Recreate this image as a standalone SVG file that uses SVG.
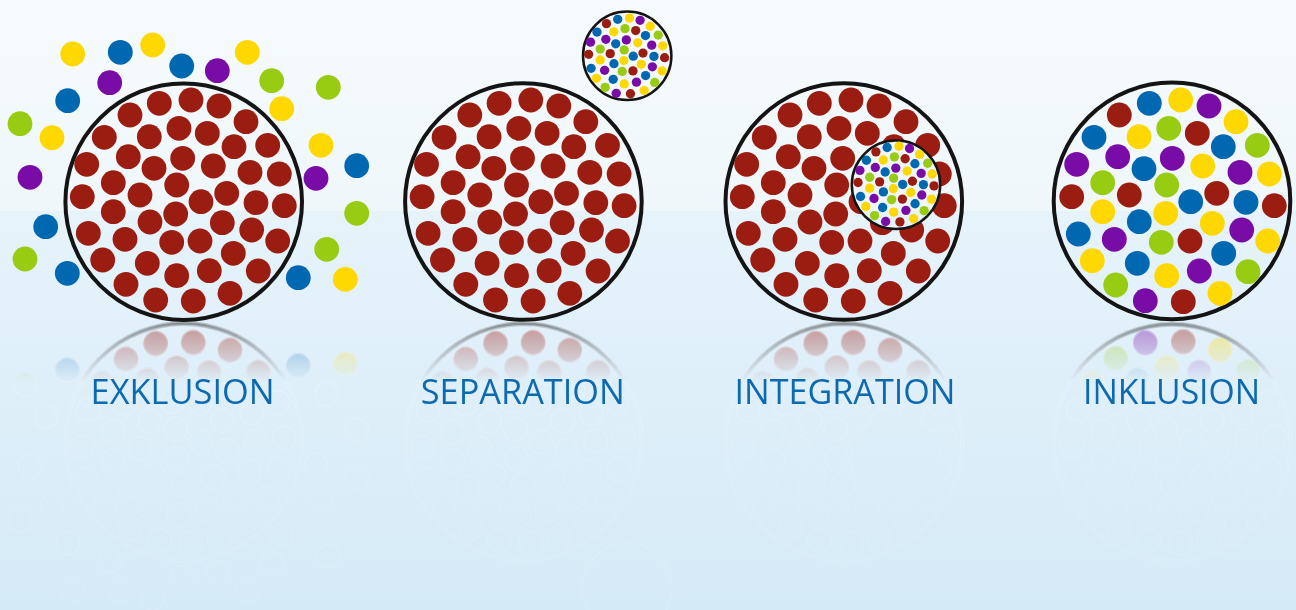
<svg xmlns="http://www.w3.org/2000/svg" xmlns:xlink="http://www.w3.org/1999/xlink" width="1296" height="610" viewBox="0 0 1296 610">
<style>
.r{fill:#9b1d11}.b{fill:#0067b1}.y{fill:#fed800}.p{fill:#790ca6}.g{fill:#98cc13}
.ring{fill:none;stroke:#141414;stroke-width:4}
.sring{fill:url(#bg);stroke:#141414;stroke-width:2.5}
.lbl{font-family:"Open Sans","Noto Sans","Liberation Sans",sans-serif;font-size:35px;fill:#0d6ab1;text-anchor:middle}
</style>
<defs>
<linearGradient id="bg" gradientUnits="userSpaceOnUse" x1="0" y1="0" x2="0" y2="610">
<stop offset="0" stop-color="#f6fbfd"/>
<stop offset="0.3459" stop-color="#eff7fb"/>
<stop offset="0.3459" stop-color="#e6f3fb"/>
<stop offset="1" stop-color="#d5eaf7"/>
</linearGradient>
<linearGradient id="fadeA" gradientUnits="userSpaceOnUse" x1="0" y1="322" x2="0" y2="382">
<stop offset="0" stop-color="#fff" stop-opacity="0.45"/>
<stop offset="1" stop-color="#fff" stop-opacity="0"/>
</linearGradient>
<linearGradient id="fadeB" gradientUnits="userSpaceOnUse" x1="0" y1="322" x2="0" y2="610">
<stop offset="0" stop-color="#fff" stop-opacity="0.7"/>
<stop offset="1" stop-color="#fff" stop-opacity="0.35"/>
</linearGradient>
<mask id="mA" maskUnits="userSpaceOnUse" x="0" y="0" width="1296" height="610">
<rect x="0" y="321" width="1296" height="289" fill="url(#fadeA)"/>
</mask>
<mask id="mB" maskUnits="userSpaceOnUse" x="0" y="0" width="1296" height="610">
<rect x="0" y="321" width="1296" height="289" fill="url(#fadeB)"/>
</mask>
<filter id="edge" filterUnits="userSpaceOnUse" x="0" y="300" width="1296" height="340">
<feMorphology in="SourceAlpha" operator="erode" radius="1" result="e"/>
<feComposite in="SourceAlpha" in2="e" operator="out" result="ring"/>
<feFlood flood-color="#ffffff" flood-opacity="0.3"/>
<feComposite in2="ring" operator="in"/>
</filter>
<g id="redDots" class="r">
<circle cx="159.3" cy="103.3" r="12.4"/><circle cx="191" cy="100" r="12.4"/><circle cx="219" cy="106" r="12.4"/>
<circle cx="130" cy="115" r="12.4"/><circle cx="246" cy="121.7" r="12.4"/><circle cx="179" cy="128.3" r="12.4"/>
<circle cx="207.3" cy="133.3" r="12.4"/><circle cx="104.3" cy="137.3" r="12.4"/><circle cx="149.3" cy="136.7" r="12.4"/>
<circle cx="234" cy="146.7" r="12.4"/><circle cx="267.7" cy="145.3" r="12.4"/><circle cx="128.3" cy="156.7" r="12.4"/>
<circle cx="182.7" cy="158.3" r="12.4"/><circle cx="86.7" cy="164.3" r="12.4"/><circle cx="154" cy="168.3" r="12.4"/>
<circle cx="213.3" cy="166" r="12.4"/><circle cx="250" cy="172.3" r="12.4"/><circle cx="279.3" cy="174" r="12.4"/>
<circle cx="113.3" cy="182.7" r="12.4"/><circle cx="176.7" cy="185" r="12.4"/><circle cx="140" cy="195" r="12.4"/>
<circle cx="82.3" cy="196.7" r="12.4"/><circle cx="226.7" cy="193.3" r="12.4"/><circle cx="201" cy="201.7" r="12.4"/>
<circle cx="256" cy="202.7" r="12.4"/><circle cx="284.3" cy="205.7" r="12.4"/><circle cx="113.3" cy="211.7" r="12.4"/>
<circle cx="175.7" cy="214" r="12.4"/><circle cx="150" cy="222" r="12.4"/><circle cx="222.3" cy="222.7" r="12.4"/>
<circle cx="88.3" cy="233.3" r="12.4"/><circle cx="125" cy="239.3" r="12.4"/><circle cx="251.7" cy="230" r="12.4"/>
<circle cx="277.7" cy="241" r="12.4"/><circle cx="171.7" cy="242.3" r="12.4"/><circle cx="200" cy="241" r="12.4"/>
<circle cx="233.3" cy="253.3" r="12.4"/><circle cx="102.7" cy="260" r="12.4"/><circle cx="147.3" cy="263.3" r="12.4"/>
<circle cx="176.7" cy="275.7" r="12.4"/><circle cx="209.3" cy="270.7" r="12.4"/><circle cx="258.3" cy="271" r="12.4"/>
<circle cx="126" cy="284.3" r="12.4"/><circle cx="230" cy="293.3" r="12.4"/><circle cx="155.7" cy="300" r="12.4"/>
<circle cx="193.3" cy="301" r="12.4"/>
</g>
<g id="mixDots">
<circle class="r" cx="129.3" cy="115" r="12.4"/><circle class="b" cx="159.3" cy="103.3" r="12.4"/><circle class="y" cx="190.7" cy="100" r="12.4"/>
<circle class="p" cx="219" cy="106" r="12.4"/><circle class="y" cx="246" cy="121.7" r="12.4"/><circle class="b" cx="104" cy="137.3" r="12.4"/>
<circle class="y" cx="149" cy="136.7" r="12.4"/><circle class="g" cx="178.7" cy="128.3" r="12.4"/><circle class="r" cx="207.3" cy="133.3" r="12.4"/>
<circle class="b" cx="233.3" cy="146.7" r="12.4"/><circle class="g" cx="267.3" cy="145.3" r="12.4"/><circle class="p" cx="86.7" cy="164.3" r="12.4"/>
<circle class="p" cx="127.7" cy="156.7" r="12.4"/><circle class="b" cx="154" cy="168.7" r="12.4"/><circle class="p" cx="182.3" cy="158.3" r="12.4"/>
<circle class="y" cx="212.7" cy="166" r="12.4"/><circle class="p" cx="250" cy="172.3" r="12.4"/><circle class="y" cx="279.3" cy="174" r="12.4"/>
<circle class="g" cx="112.7" cy="182.7" r="12.4"/><circle class="g" cx="176.7" cy="185" r="12.4"/><circle class="r" cx="81.7" cy="196.7" r="12.4"/>
<circle class="r" cx="139.3" cy="195" r="12.4"/><circle class="b" cx="200.7" cy="201.7" r="12.4"/><circle class="r" cx="226.7" cy="193.3" r="12.4"/>
<circle class="b" cx="256" cy="202.3" r="12.4"/><circle class="r" cx="284.3" cy="205.7" r="12.4"/><circle class="y" cx="112.7" cy="211.7" r="12.4"/>
<circle class="y" cx="175.7" cy="213.3" r="12.4"/><circle class="b" cx="149.3" cy="221.7" r="12.4"/><circle class="y" cx="222.3" cy="223.3" r="12.4"/>
<circle class="b" cx="88.3" cy="234" r="12.4"/><circle class="p" cx="124.3" cy="239.3" r="12.4"/><circle class="g" cx="171.3" cy="242.3" r="12.4"/>
<circle class="r" cx="200" cy="241" r="12.4"/><circle class="p" cx="251.7" cy="230" r="12.4"/><circle class="y" cx="277.7" cy="241" r="12.4"/>
<circle class="y" cx="102.3" cy="260.7" r="12.4"/><circle class="b" cx="147.3" cy="263.3" r="12.4"/><circle class="b" cx="233.7" cy="253.3" r="12.4"/>
<circle class="g" cx="125.7" cy="285" r="12.4"/><circle class="y" cx="176.7" cy="275.7" r="12.4"/><circle class="p" cx="209.3" cy="271" r="12.4"/>
<circle class="g" cx="258" cy="271.7" r="12.4"/><circle class="p" cx="155.3" cy="300.7" r="12.4"/><circle class="r" cx="193.3" cy="301.7" r="12.4"/>
<circle class="y" cx="230" cy="293.3" r="12.4"/>
</g>
</defs>

<rect id="background" x="0" y="0" width="1296" height="610" fill="url(#bg)"/>

<g id="reflection">
<g mask="url(#mA)"><use xlink:href="#scenes" href="#scenes" transform="matrix(1 0 0 -1 0 643.5)"/></g>
<g mask="url(#mB)"><g filter="url(#edge)"><use xlink:href="#scenes" href="#scenes" transform="matrix(1 0 0 -1 0 643.5)"/></g></g>
</g>

<g id="scenes">
<g id="exklusion">
<g id="exklusion-outside">
<circle class="y" cx="72.7" cy="54" r="12.4"/><circle class="b" cx="120.3" cy="52.3" r="12.4"/><circle class="y" cx="152.7" cy="45" r="12.4"/>
<circle class="b" cx="181.7" cy="66" r="12.4"/><circle class="p" cx="217.3" cy="70.7" r="12.4"/><circle class="y" cx="247.3" cy="52.3" r="12.4"/>
<circle class="p" cx="109.7" cy="82.7" r="12.4"/><circle class="g" cx="271.7" cy="80.7" r="12.4"/><circle class="y" cx="281.7" cy="108.7" r="12.4"/>
<circle class="g" cx="328.3" cy="87.3" r="12.4"/><circle class="b" cx="67.7" cy="100.7" r="12.4"/><circle class="g" cx="20" cy="123.7" r="12.4"/>
<circle class="y" cx="52" cy="137.7" r="12.4"/><circle class="y" cx="321" cy="145.3" r="12.4"/><circle class="p" cx="30" cy="177.3" r="12.4"/>
<circle class="p" cx="316" cy="178.3" r="12.4"/><circle class="b" cx="356.7" cy="165.7" r="12.4"/><circle class="g" cx="356.7" cy="213.3" r="12.4"/>
<circle class="b" cx="45.7" cy="226.7" r="12.4"/><circle class="g" cx="326.7" cy="249.3" r="12.4"/><circle class="g" cx="25" cy="259" r="12.4"/>
<circle class="b" cx="67.3" cy="273.3" r="12.4"/><circle class="b" cx="298.3" cy="277.7" r="12.4"/><circle class="y" cx="345.3" cy="279.3" r="12.4"/>
</g>
<circle class="ring" cx="183.7" cy="201.7" r="118.3"/>
<use xlink:href="#redDots" href="#redDots"/>
</g>

<g id="separation">
<circle class="ring" cx="523.4" cy="201.5" r="118.3"/>
<use xlink:href="#redDots" href="#redDots" transform="translate(339.8 0)"/>
<g id="separation-small">
<circle class="sring" cx="627.2" cy="55.8" r="44.2"/>
<use xlink:href="#mixDots" href="#mixDots" transform="translate(627.15 55.8) scale(0.375) translate(-184.5 -200.7)"/>
</g>
</g>

<g id="integration">
<circle class="ring" cx="843.8" cy="201.5" r="118.3"/>
<use xlink:href="#redDots" href="#redDots" transform="translate(660 0)"/>
<g id="integration-small">
<circle class="sring" cx="896" cy="184.8" r="44.2"/>
<use xlink:href="#mixDots" href="#mixDots" transform="translate(896.6 184) scale(0.375) translate(-184.5 -200.7)"/>
</g>
</g>

<g id="inklusion">
<circle class="ring" cx="1172" cy="200.9" r="118.3"/>
<use xlink:href="#mixDots" href="#mixDots" transform="translate(990 0)"/>
</g>
</g>

<g id="labels">
<text id="label-exklusion" class="lbl" x="182.6" y="404" textLength="184" lengthAdjust="spacingAndGlyphs">EXKLUSION</text>
<text id="label-separation" class="lbl" x="522.8" y="404" textLength="204" lengthAdjust="spacingAndGlyphs">SEPARATION</text>
<text id="label-integration" class="lbl" x="845" y="404" textLength="221" lengthAdjust="spacingAndGlyphs">INTEGRATION</text>
<text id="label-inklusion" class="lbl" x="1171.6" y="404" textLength="177" lengthAdjust="spacingAndGlyphs">INKLUSION</text>
</g>
<g id="connectors"/>
</svg>
